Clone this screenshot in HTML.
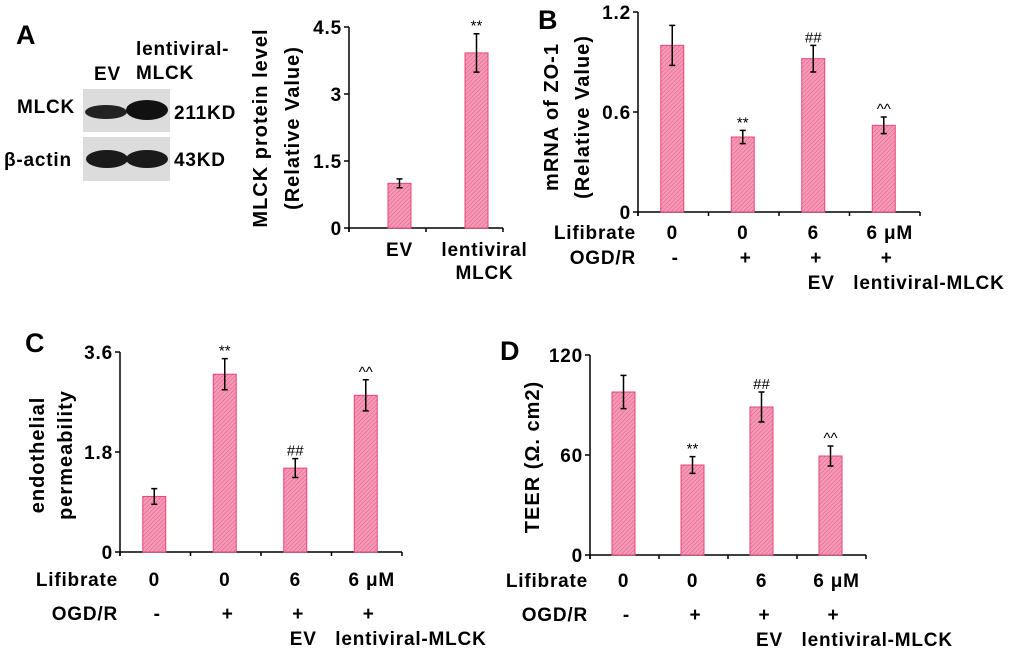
<!DOCTYPE html>
<html><head><meta charset="utf-8"><style>
html,body{margin:0;padding:0;background:#fff}
svg{display:block}
text{font-family:"Liberation Sans","DejaVu Sans",sans-serif;fill:#000}
.b{font-weight:bold;font-size:19px;letter-spacing:0.8px}
.t{font-weight:bold;font-size:20px;letter-spacing:1px}
.s{font-size:15px}
.p{font-weight:bold;font-size:27px}
</style></head><body>
<svg id="fig" width="1020" height="650" viewBox="0 0 1020 650" xmlns="http://www.w3.org/2000/svg">
<defs>
<pattern id="hatch" patternUnits="userSpaceOnUse" width="3" height="3" patternTransform="rotate(45)">
<rect width="3" height="3" fill="#f59ab6"/><line x1="0" y1="0" x2="0" y2="3" stroke="#e65a88" stroke-width="1"/>
</pattern>
</defs>
<g>
<text class="p" x="16" y="44">A</text>
<text class="b" x="94" y="80">EV</text>
<text class="b" x="136" y="55">lentiviral-</text>
<text class="b" x="136" y="79">MLCK</text>
<text class="b" x="17" y="113">MLCK</text>
<text class="b" x="4" y="166">β-actin</text>
<rect x="83" y="89" width="87" height="43" fill="#dcdcdc"/>
<rect x="83" y="137" width="87" height="44" fill="#dcdcdc"/>
<ellipse cx="106" cy="112" rx="21" ry="7" fill="#222"/>
<ellipse cx="147" cy="110" rx="21" ry="10" fill="#111"/>
<ellipse cx="107" cy="159" rx="21" ry="9" fill="#1a1a1a"/>
<ellipse cx="147" cy="159" rx="21" ry="9" fill="#1a1a1a"/>
<text class="b" x="174" y="119">211KD</text>
<text class="b" x="174" y="166">43KD</text>
</g>
<text class="p" x="538" y="29">B</text>
<text class="p" x="25" y="352">C</text>
<text class="p" x="500" y="360">D</text>
</svg>
<script>
// Panel A data
const aCategories = ["EV", "lentiviral MLCK"];
const aValues = [1.0, 3.92];
const aErrors = [0.1, 0.43];
const aTicks = ["0", "1.5", "3", "4.5"];
const aMarks = ["", "**"];
// Panel B data
const bValues = [1.0, 0.45, 0.92, 0.52];
const bErrors = [0.12, 0.04, 0.08, 0.05];
const bTicks = ["0", "0.6", "1.2"];
const bMarks = ["", "**", "##", "^^"];
// Panel C data
const cValues = [1.0, 3.2, 1.51, 2.82];
const cErrors = [0.14, 0.28, 0.17, 0.28];
const cTicks = ["0", "1.8", "3.6"];
const cMarks = ["", "**", "##", "^^"];
// Panel D data
const dValues = [97.8, 54, 88.8, 59.4];
const dErrors = [10, 5, 9, 6];
const dTicks = ["0", "60", "120"];
const dMarks = ["", "**", "##", "^^"];
const lifibrate = ["0", "0", "6", "6 μM"];
const ogd = ["-", "+", "+", "+"];

const NS = "http://www.w3.org/2000/svg";
const svg = document.getElementById("fig");
function mk(tag, attrs, parent, txt) {
  const e = document.createElementNS(NS, tag);
  for (const k in attrs) e.setAttribute(k, attrs[k]);
  if (txt !== undefined) e.textContent = txt;
  (parent || svg).appendChild(e);
  return e;
}

function panel(cfg) {
  const g = mk("g", {});
  
  
  const n = cfg.values.length;
  const ymax = parseFloat(cfg.ticks[cfg.ticks.length - 1]);
  const y = v => cfg.y0 - (v / ymax) * (cfg.y0 - cfg.yTop);
  const slot = (cfg.x1 - cfg.x0) / n;
  const cx = i => cfg.x0 + slot * (i + 0.5) + cfg.shift;
  const ya = mk("line", {x1: cfg.x0, y1: cfg.yTop, x2: cfg.x0, y2: cfg.y0 + 4, stroke: "#000", "stroke-width": 1.5}, g);
  
  
  const xa = mk("line", {x1: cfg.x0, y1: cfg.y0, x2: cfg.x1, y2: cfg.y0, stroke: "#000", "stroke-width": 1.5}, g);
  
  
  for (let i = 0; i <= n; i++) {
    const xt = cfg.x0 + slot * i;
    mk("line", {x1: xt, y1: cfg.y0, x2: xt, y2: cfg.y0 + 4, stroke: "#000", "stroke-width": 1.5}, g);
  }
  cfg.ticks.forEach(t => {
    const yy = y(parseFloat(t));
    mk("line", {x1: cfg.x0 - 5, y1: yy, x2: cfg.x0, y2: yy, stroke: "#000", "stroke-width": 1.5}, g);
    const tl = mk("text", {x: cfg.x0 - 7, y: yy + 7, "text-anchor": "end", class: "b"}, g, t);
    
    
  });
  cfg.title.forEach((line, k) => {
    const tx = cfg.titleX[k];
    const tt = mk("text", {x: tx, y: cfg.titleY, "text-anchor": "middle", class: "t", transform: `rotate(-90 ${tx} ${cfg.titleY})`}, g, line);
    
    
  });
  const bw = 23;
  cfg.values.forEach((v, i) => {
    const c = cx(i);
    const r = mk("rect", {x: c - bw / 2, y: y(v), width: bw, height: cfg.y0 - y(v), fill: "url(#hatch)", stroke: "#e8457a", "stroke-width": 1}, g);
    
    
    const e = cfg.errors[i];
    const eb = mk("path", {d: `M${c} ${y(v + e)}V${y(v - e)}M${c - 3} ${y(v + e)}h6M${c - 3} ${y(v - e)}h6`, stroke: "#000", "stroke-width": 1.5, fill: "none"}, g);
    
    
    if (cfg.marks[i]) {
      const m = mk("text", {x: c, y: y(v + e) - 3, "text-anchor": "middle", class: "s"}, g, cfg.marks[i]);
      
      
    }
  });
  if (cfg.rows) {
    const r1 = mk("text", {x: cfg.x0 - 2, y: cfg.rowY[0], "text-anchor": "end", class: "b"}, g, "Lifibrate");
    
    
    const r2 = mk("text", {x: cfg.x0 - 2, y: cfg.rowY[1], "text-anchor": "end", class: "b"}, g, "OGD/R");
    
    
    lifibrate.forEach((t, i) => {
      const l = mk("text", {x: cx(i) + (i == 3 ? 6 : 0), y: cfg.rowY[0], "text-anchor": "middle", class: "b"}, g, t);
      
      
    });
    ogd.forEach((t, i) => {
      const l = mk("text", {x: cx(i) + 3, y: cfg.rowY[1], "text-anchor": "middle", class: "b"}, g, t);
      
      
    });
    const ev = mk("text", {x: cx(2) + 8, y: cfg.rowY[2], "text-anchor": "middle", class: "b"}, g, "EV");
    
    
    const lm = mk("text", {x: cx(2) + 40, y: cfg.rowY[2], "text-anchor": "start", class: "b"}, g, "lentiviral-MLCK");
    
    
  }
  return {cx};
}

const pa = panel({name: "chart-a", values: aValues, errors: aErrors, ticks: aTicks, marks: aMarks,
  x0: 349, x1: 503, y0: 228, yTop: 27, shift: 12, title: ["MLCK protein level", "(Relative Value)"], titleX: [267, 299], titleY: 128});
[["EV"], ["lentiviral", "MLCK"]].forEach((lines, i) => {
  lines.forEach((t, k) => {
    const l = mk("text", {x: pa.cx(i) + (i ? 8 : 0), y: 256 + k * 23, "text-anchor": "middle", class: "b"}, svg, t);
    
    
  });
});
panel({name: "chart-b", values: bValues, errors: bErrors, ticks: bTicks, marks: bMarks,
  x0: 638, x1: 920, y0: 212, yTop: 12, shift: -1, title: ["mRNA of ZO-1", "(Relative Value)"], titleX: [558, 589], titleY: 117,
  rows: true, rowY: [239, 264, 289]});
panel({name: "chart-c", values: cValues, errors: cErrors, ticks: cTicks, marks: cMarks,
  x0: 120, x1: 402, y0: 552, yTop: 352, shift: -1, title: ["endothelial", "permeability"], titleX: [44, 72], titleY: 455,
  rows: true, rowY: [586, 620, 645]});
panel({name: "chart-d", values: dValues, errors: dErrors, ticks: dTicks, marks: dMarks,
  x0: 590, x1: 866, y0: 555, yTop: 355, shift: -1, title: ["TEER  (Ω. cm2)"], titleX: [539], titleY: 457,
  rows: true, rowY: [587, 621, 646]});
</script>
</body></html>
